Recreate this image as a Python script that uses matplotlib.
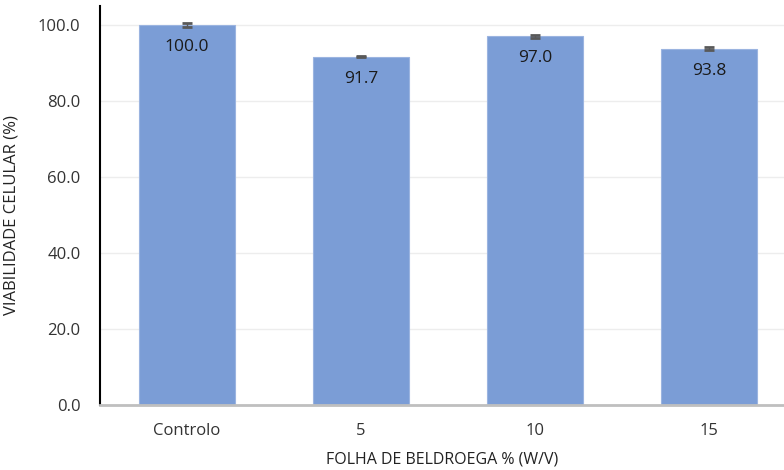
import matplotlib
matplotlib.use("Agg")
import matplotlib.pyplot as plt

categories = ["Controlo", "5", "10", "15"]
values = [100.0, 91.7, 97.0, 93.8]
errors = [0.5, 0.2, 0.3, 0.3]
value_labels = ["100.0", "91.7", "97.0", "93.8"]
yticks = [0, 20, 40, 60, 80, 100]

plt.rcParams['font.family'] = ['Open Sans', 'DejaVu Sans']

fig = plt.figure(figsize=(7.84, 4.70), dpi=100)
W, H = 784, 470
ax = fig.add_axes([100 / W, (470 - 405) / H, (784 - 100) / W, (405 - 6) / H])

x = list(range(len(categories)))
ax.bar(x, values, width=0.555, color="#7B9DD6", edgecolor="#9BB4E0", linewidth=0.8, zorder=2)
ax.errorbar(x, values, yerr=errors, fmt="none", ecolor="#595959", elinewidth=1.0,
            capsize=3.5, capthick=2, zorder=3)

for xi, v, lab in zip(x, values, value_labels):
    ax.annotate(lab, (xi, v), xytext=(0, -22), textcoords="offset pixels",
                ha="center", va="center", fontsize=12.5, color="#1A1A1A", zorder=4)

ax.set_xlim(-0.5, 3.43)
ax.set_ylim(0, 105)
ax.set_yticks(yticks)
ax.set_yticklabels([f"{t:.1f}" for t in yticks])
ax.set_xticks(x)
ax.set_xticklabels(categories)

ax.yaxis.grid(True, color="#EDEDED", linewidth=1, zorder=0)
ax.set_axisbelow(True)

for s in ["top", "right"]:
    ax.spines[s].set_visible(False)
ax.spines["left"].set_color("#000000")
ax.spines["left"].set_linewidth(1.5)
ax.spines["bottom"].set_color("#BFBFBF")
ax.spines["bottom"].set_linewidth(2)

ax.tick_params(axis="both", length=0, labelsize=12, colors="#333333")
ax.tick_params(axis="y", pad=14)
ax.tick_params(axis="x", pad=13)

ax.set_ylabel("VIABILIDADE CELULAR (%)", fontsize=12, color="#222222", labelpad=8)
ax.yaxis.set_label_coords(-0.118, 0.475)
ax.set_xlabel("FOLHA DE BELDROEGA % (W/V)", fontsize=11.5, color="#222222", labelpad=9)

fig.savefig("out.png", dpi=100)
